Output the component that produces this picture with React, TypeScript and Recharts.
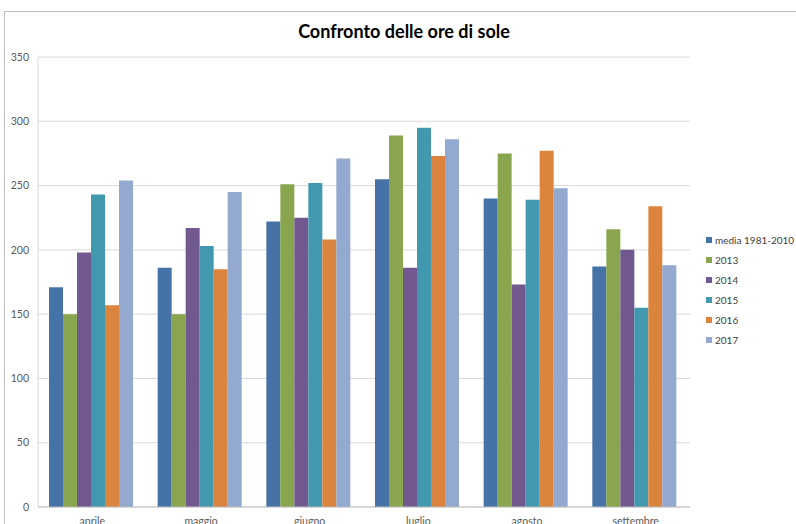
import React from 'react';
import { BarChart, Bar, XAxis, YAxis, CartesianGrid, Legend } from 'recharts';

// months on the x axis
const months = ['aprile', 'maggio', 'giugno', 'luglio', 'agosto', 'settembre'];

// sunshine hours per series, one value per month
const media = [171, 186, 222, 255, 240, 187];
const y2013 = [150, 150, 251, 289, 275, 216];
const y2014 = [198, 217, 225, 186, 173, 200];
const y2015 = [243, 203, 252, 295, 239, 155];
const y2016 = [157, 185, 208, 273, 277, 234];
const y2017 = [254, 245, 271, 286, 248, 188];

const yTicks = [0, 50, 100, 150, 200, 250, 300, 350];

const series = [
  { key: 'media 1981-2010', values: media, color: '#4572a7' },
  { key: '2013', values: y2013, color: '#89a54e' },
  { key: '2014', values: y2014, color: '#71588f' },
  { key: '2015', values: y2015, color: '#4198af' },
  { key: '2016', values: y2016, color: '#db843d' },
  { key: '2017', values: y2017, color: '#93a9cf' },
];

const data = months.map((m, i) => {
  const row: any = { month: m };
  series.forEach((s) => { row[s.key] = s.values[i]; });
  return row;
});

const FONT = 'Lato, "Open Sans", sans-serif';

// legend like the Excel one: small squares, 20px rows, in series order
const LegendBox = () => (
  <div style={{ fontFamily: FONT, fontSize: 10, color: '#404040', whiteSpace: 'nowrap' }}>
    {series.map((s) => (
      <div key={s.key} style={{ display: 'flex', alignItems: 'center', height: 20 }}>
        <span style={{ width: 6, height: 6, flexShrink: 0, background: s.color, marginRight: 3, display: 'inline-block' }} />
        <span>{s.key}</span>
      </div>
    ))}
  </div>
);

export default function App() {
  return (
    <div style={{ position: 'relative', width: 796, height: 524, overflow: 'hidden', background: '#fff' }}>
      <style>{'body{margin:0}'}</style>
      {/* outer chart-area frame, runs off the right and bottom edges */}
      <div style={{ position: 'absolute', left: 4, top: 11, width: 900, height: 700, border: '1px solid #bfbfbf' }} />
      <div
        style={{
          position: 'absolute', left: 0, width: 808, top: 20, textAlign: 'center',
          fontFamily: FONT, fontWeight: 700, fontSize: 18, color: '#000',
        }}
      >
        Confronto delle ore di sole
      </div>
      <div style={{ position: 'absolute', left: 0, top: 0 }}>
        <BarChart
          width={796}
          height={524}
          data={data}
          margin={{ top: 57, right: 106, left: 0, bottom: 0 }}
          barCategoryGap={11}
          barGap={0}
        >
          <CartesianGrid vertical={false} stroke="#d9d9d9" />
          <XAxis
            dataKey="month"
            height={17}
            tickLine={false}
            tickSize={0}
            tickMargin={11}
            axisLine={{ stroke: '#bfbfbf' }}
            tick={{ fontSize: 10.5, fill: '#595959', fontFamily: FONT }}
          />
          <YAxis
            width={38}
            domain={[0, 350]}
            ticks={yTicks}
            tickLine={false}
            tickSize={0}
            tickMargin={9}
            axisLine={{ stroke: '#d9d9d9' }}
            tick={{ fontSize: 10.5, fill: '#595959', fontFamily: FONT }}
          />
          <Legend
            layout="vertical"
            align="center"
            verticalAlign="middle"
            content={<LegendBox />}
            wrapperStyle={{ position: 'absolute', left: 706, top: 230, width: 90 }}
          />
          {series.map((s) => (
            <Bar key={s.key} dataKey={s.key} fill={s.color} isAnimationActive={false} />
          ))}
        </BarChart>
      </div>
    </div>
  );
}
